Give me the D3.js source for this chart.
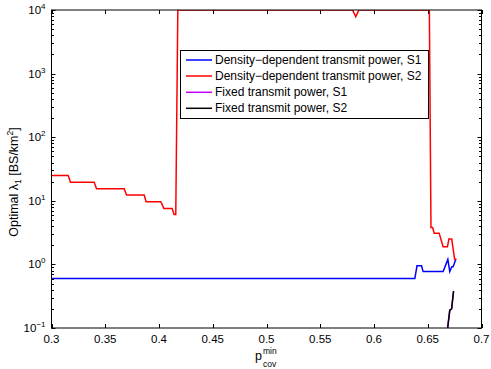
<!DOCTYPE html>
<html><head><meta charset="utf-8">
<script src="https://cdn.jsdelivr.net/npm/d3@7/dist/d3.min.js"></script>
<style>body{margin:0;background:#fff}svg{display:block}text{font-family:"Liberation Sans",Arial,sans-serif;fill:#000}</style>
</head><body><svg id="c" width="491" height="369"></svg>
<script>
// Data
const xTicks = [0.3,0.35,0.4,0.45,0.5,0.55,0.6,0.65,0.7];
const yTickExps = [-1,0,1,2,3,4];
const seriesNames = ["Density\u2212dependent transmit power, S1","Density\u2212dependent transmit power, S2","Fixed transmit power, S1","Fixed transmit power, S2"];
const seriesColors = ["#0000ff","#ff0000","#bf00ff","#000000"];

const ddS1_x = [0.300,0.638,0.640,0.6442,0.6457,0.6643,0.6687,0.6705,0.6724,0.6736,0.6761];
const ddS1_y = [0.60,0.60,0.95,0.95,0.77,0.77,1.2,0.77,0.92,0.92,1.2];

const ddS2_x = [0.300,0.3155,0.3177,0.3397,0.3419,0.3676,0.3698,0.3862,0.388,0.4017,0.4045,0.4122,0.414,0.4156,0.4175,0.580,0.583,0.586,0.6515,0.6530,0.6545,0.6560,0.6606,0.6643,0.6683,0.6697,0.6723,0.6750,0.6767];
const ddS2_y = [25,25,19.5,19.5,15.5,15.5,12.3,12.3,9.7,9.7,7.6,7.6,6.1,6.1,10000,10000,7850,10000,10000,3.8,3.8,3.1,3.1,1.9,1.9,2.5,2.5,1.2,1.2];

const fxS1_x = [0.6680,0.6705,0.6722,0.6740];
const fxS1_y = [0.085,0.19,0.20,0.38];

const fxS2_x = [0.6680,0.6705,0.6722,0.6740];
const fxS2_y = [0.085,0.19,0.20,0.38];

const series = [
  {x: ddS1_x, y: ddS1_y},
  {x: ddS2_x, y: ddS2_y},
  {x: fxS1_x, y: fxS1_y},
  {x: fxS2_x, y: fxS2_y}
];

const L = 51.5, R = 481.5, T = 10, B = 328;
const svg = d3.select("#c");
const x = d3.scaleLinear().domain([0.3,0.7]).range([L,R]);
const y = d3.scaleLog().domain([0.1,10000]).range([B,T]);

svg.append("defs").append("clipPath").attr("id","clip")
  .append("rect").attr("x",L).attr("y",T).attr("width",R-L).attr("height",B-T);

// lines
const line = d3.line().x(d=>x(d[0])).y(d=>y(d[1]));
[0,1,2,3].forEach(i=>{
  const s = series[i];
  const pts = s.x.map((v,k)=>[v,s.y[k]]);
  svg.append("path").attr("clip-path","url(#clip)").attr("d",line(pts))
    .attr("fill","none").attr("stroke",seriesColors[i]).attr("stroke-width",1.5);
});

// frame
svg.append("rect").attr("x",L).attr("y",T).attr("width",R-L).attr("height",B-T)
  .attr("fill","none").attr("stroke","#000").attr("stroke-width",1);

// x ticks (inside, bottom and top)
const gx = svg.append("g");
xTicks.forEach(t=>{
  const px = Math.round(x(t))+0.5;
  gx.append("line").attr("x1",px).attr("x2",px).attr("y1",B).attr("y2",B-4).attr("stroke","#000");
  gx.append("line").attr("x1",px).attr("x2",px).attr("y1",T).attr("y2",T+4).attr("stroke","#000");
  gx.append("text").attr("x",x(t)).attr("y",B+15).attr("text-anchor","middle")
    .style("font-size","11.5px").text(d3.format("")(t));
});

// y ticks (major + minor, inside, left and right)
const gy = svg.append("g");
yTickExps.forEach(e=>{
  const v = Math.pow(10,e);
  const py = Math.round(y(v))+0.5;
  gy.append("line").attr("x1",L).attr("x2",L+4).attr("y1",py).attr("y2",py).attr("stroke","#000");
  gy.append("line").attr("x1",R).attr("x2",R-4).attr("y1",py).attr("y2",py).attr("stroke","#000");
  const tx = gy.append("text").attr("x",L-6).attr("y",y(v)+4).attr("text-anchor","end").style("font-size","11.5px");
  tx.append("tspan").text("10");
  tx.append("tspan").attr("dy",-5).style("font-size","8px").text(e<0?"\u2212"+Math.abs(e):String(e));
  if (e < 4) {
    for (let m=2;m<=9;m++){
      const mv = m*v; const my = Math.round(y(mv))+0.5;
      gy.append("line").attr("x1",L).attr("x2",L+2.5).attr("y1",my).attr("y2",my).attr("stroke","#000");
      gy.append("line").attr("x1",R).attr("x2",R-2.5).attr("y1",my).attr("y2",my).attr("stroke","#000");
    }
  }
});

// x label
svg.append("text").attr("x",255).attr("y",360).style("font-size","12.5px").text("p");
svg.append("text").attr("x",263).attr("y",366.5).style("font-size","8.5px").text("cov");
svg.append("text").attr("x",263).attr("y",354).style("font-size","8.5px").text("min");

// y label
const yl = svg.append("text").attr("transform","translate(17.5,182) rotate(-90)")
  .attr("text-anchor","middle").style("font-size","12.5px");
yl.append("tspan").text("Optimal \u03bb");
yl.append("tspan").attr("dy",3).style("font-size","8.5px").text("1");
yl.append("tspan").attr("dy",-3).text(" [BS/km");
yl.append("tspan").attr("dy",-5).style("font-size","8.5px").text("2");
yl.append("tspan").attr("dy",5).text("]");

// legend
const lg = svg.append("g");
lg.append("rect").attr("x",180.5).attr("y",50.5).attr("width",248).attr("height",68)
  .attr("fill","#fff").attr("stroke","#000").attr("stroke-width",1);
const ly = [60,76,92.3,108.3];
seriesNames.forEach((n,i)=>{
  lg.append("line").attr("x1",186).attr("x2",212).attr("y1",ly[i]).attr("y2",ly[i])
    .attr("stroke",seriesColors[i]).attr("stroke-width",1.5);
  lg.append("text").attr("x",215).attr("y",ly[i]+4).style("font-size","12px").text(n);
});
</script></body></html>
